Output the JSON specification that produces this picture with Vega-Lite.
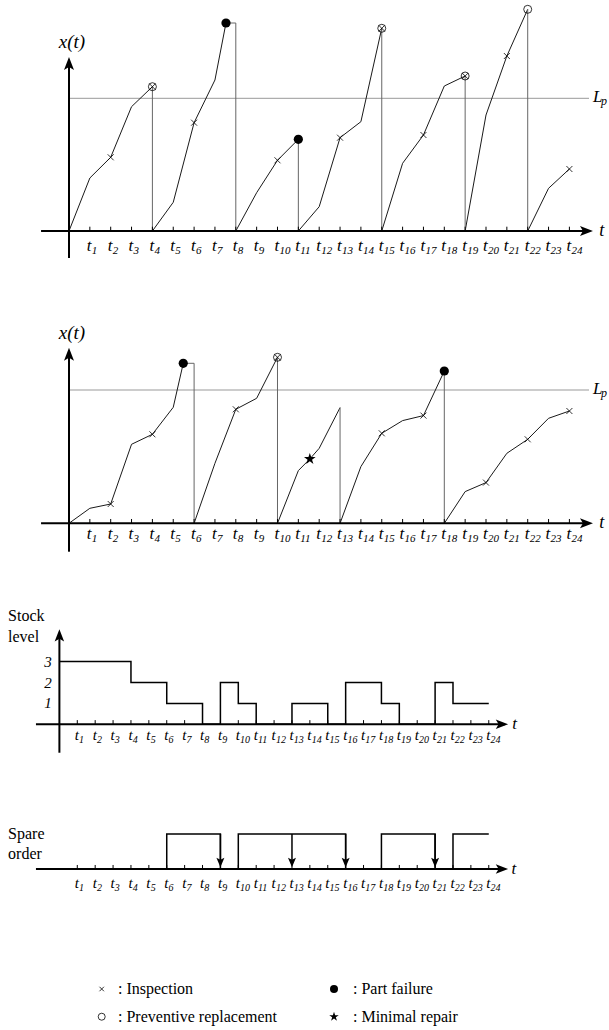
{
 "$schema": "https://vega.github.io/schema/vega-lite/v6.json",
 "padding": 0,
 "spacing": 0,
 "bounds": "flush",
 "config": {"view": {"stroke": null}, "font": "Liberation Serif, Times New Roman, serif", "mark": {"font": "Liberation Serif, Times New Roman, serif"}, "text": {"font": "Liberation Serif, Times New Roman, serif", "color": "black"}},
 "datasets": {
  "ticks": [{"t":1},{"t":2},{"t":3},{"t":4},{"t":5},{"t":6},{"t":7},{"t":8},{"t":9},{"t":10},{"t":11},{"t":12},{"t":13},{"t":14},{"t":15},{"t":16},{"t":17},{"t":18},{"t":19},{"t":20},{"t":21},{"t":22},{"t":23},{"t":24}],
  "p1cyc": [
   {"c":1,"t":0,"v":0},{"c":1,"t":1,"v":5.3},{"c":1,"t":2,"v":7.37},{"c":1,"t":3,"v":12.43},{"c":1,"t":4,"v":14.43},
   {"c":2,"t":4,"v":0},{"c":2,"t":5,"v":2.87},{"c":2,"t":6,"v":10.83},{"c":2,"t":7,"v":15.1},{"c":2,"t":7.53,"v":20.8},
   {"c":3,"t":8,"v":0},{"c":3,"t":9,"v":3.83},{"c":3,"t":10,"v":7.07},{"c":3,"t":11,"v":9.17},
   {"c":4,"t":11,"v":0},{"c":4,"t":12,"v":2.43},{"c":4,"t":13,"v":9.33},{"c":4,"t":14,"v":10.93},{"c":4,"t":15,"v":20.27},
   {"c":5,"t":15,"v":0},{"c":5,"t":16,"v":6.77},{"c":5,"t":17,"v":9.6},{"c":5,"t":18,"v":14.5},{"c":5,"t":19,"v":15.5},
   {"c":6,"t":19,"v":0},{"c":6,"t":20,"v":11.6},{"c":6,"t":21,"v":17.5},{"c":6,"t":22,"v":22.17},
   {"c":7,"t":22,"v":0},{"c":7,"t":23,"v":4.27},{"c":7,"t":24,"v":6.2}
  ],
  "p1drop": [
   {"t":4,"v":14.43,"t2":4,"v2":0},{"t":7.53,"v":20.8,"t2":8,"v2":20.8},{"t":8,"v":20.8,"t2":8,"v2":0},
   {"t":11,"v":9.17,"t2":11,"v2":0},{"t":15,"v":20.27,"t2":15,"v2":0},{"t":19,"v":15.5,"t2":19,"v2":0},{"t":22,"v":22.17,"t2":22,"v2":0}
  ],
  "p1insp": [{"t":2,"v":7.37},{"t":4,"v":14.43},{"t":6,"v":10.83},{"t":10,"v":7.07},{"t":13,"v":9.33},{"t":15,"v":20.27},{"t":17,"v":9.6},{"t":19,"v":15.5},{"t":21,"v":17.5},{"t":24,"v":6.2}],
  "p1prev": [{"t":4,"v":14.43},{"t":15,"v":20.27},{"t":19,"v":15.5},{"t":22,"v":22.17}],
  "p1fail": [{"t":7.53,"v":20.8},{"t":11,"v":9.17}],
  "p2cyc": [
   {"c":1,"t":0,"v":0},{"c":1,"t":1,"v":1.5},{"c":1,"t":2,"v":1.93},{"c":1,"t":3,"v":7.9},{"c":1,"t":4,"v":8.9},{"c":1,"t":5,"v":11.6},{"c":1,"t":5.48,"v":16.0},
   {"c":2,"t":6,"v":0},{"c":2,"t":7,"v":6.0},{"c":2,"t":8,"v":11.4},{"c":2,"t":9,"v":12.5},{"c":2,"t":10,"v":16.6},
   {"c":3,"t":10,"v":0},{"c":3,"t":11,"v":5.27},{"c":3,"t":11.55,"v":6.43},{"c":3,"t":12,"v":7.5},{"c":3,"t":13,"v":11.57},
   {"c":4,"t":13,"v":0},{"c":4,"t":14,"v":5.67},{"c":4,"t":15,"v":9.0},{"c":4,"t":16,"v":10.27},{"c":4,"t":17,"v":10.77},{"c":4,"t":18,"v":15.23},
   {"c":5,"t":18,"v":0},{"c":5,"t":19,"v":3.17},{"c":5,"t":20,"v":4.07},{"c":5,"t":21,"v":7.0},{"c":5,"t":22,"v":8.4},{"c":5,"t":23,"v":10.5},{"c":5,"t":24,"v":11.23}
  ],
  "p2drop": [
   {"t":5.48,"v":16.0,"t2":6,"v2":16.0},{"t":6,"v":16.0,"t2":6,"v2":0},{"t":10,"v":16.6,"t2":10,"v2":0},
   {"t":13,"v":11.57,"t2":13,"v2":0},{"t":18,"v":15.23,"t2":18,"v2":0}
  ],
  "p2insp": [{"t":2,"v":1.93},{"t":4,"v":8.9},{"t":8,"v":11.4},{"t":10,"v":16.6},{"t":15,"v":9.0},{"t":17,"v":10.77},{"t":20,"v":4.07},{"t":22,"v":8.4},{"t":24,"v":11.23}],
  "p2prev": [{"t":10,"v":16.6}],
  "p2fail": [{"t":5.48,"v":16.0},{"t":18,"v":15.23}],
  "p2rep": [{"t":11.55,"v":6.43}],
  "stock": [{"t":0,"v":3},{"t":4,"v":2},{"t":6,"v":1},{"t":8,"v":0},{"t":9,"v":2},{"t":10,"v":1},{"t":11,"v":0},{"t":13,"v":1},{"t":15,"v":0},{"t":16,"v":2},{"t":18,"v":1},{"t":19,"v":0},{"t":21,"v":2},{"t":22,"v":1},{"t":24,"v":1}],
  "levels": [{"v":1},{"v":2},{"v":3}],
  "order": [{"t":0,"v":0},{"t":6,"v":1},{"t":9,"v":0},{"t":10,"v":1},{"t":16,"v":0},{"t":18,"v":1},{"t":21,"v":0},{"t":22,"v":1},{"t":24,"v":1}],
  "arrive": [{"t":9},{"t":13},{"t":16},{"t":21}],
  "legend": [{"col":1,"row":1,"k":": Inspection"},{"col":1,"row":2,"k":": Preventive replacement"},{"col":2,"row":1,"k":": Part failure"},{"col":2,"row":2,"k":": Minimal repair"}]
 },
 "vconcat": [
  {
   "width": 609, "height": 300,
   "layer": [
    {"data": {"values": [{}]}, "mark": {"type": "rule", "color": "#999", "strokeWidth": 1}, "encoding": {
      "x": {"datum": 0, "type": "quantitative", "scale": {"domain": [-3.309, 25.899], "nice": false, "zero": false}, "axis": null},
      "x2": {"datum": 24.94},
      "y": {"datum": 13.27, "type": "quantitative", "scale": {"domain": [-6.9, 23.1], "nice": false, "zero": false}, "axis": null}}},
    {"data": {"name": "p1cyc"}, "mark": {"type": "line", "color": "#1a1a1a", "strokeWidth": 1}, "encoding": {
      "x": {"field": "t", "type": "quantitative", "scale": {"domain": [-3.309, 25.899], "nice": false, "zero": false}, "axis": null},
      "y": {"field": "v", "type": "quantitative", "scale": {"domain": [-6.9, 23.1], "nice": false, "zero": false}, "axis": null},
      "detail": {"field": "c"}}},
    {"data": {"name": "p1drop"}, "mark": {"type": "rule", "color": "#666", "strokeWidth": 1}, "encoding": {
      "x": {"field": "t", "type": "quantitative", "scale": {"domain": [-3.309, 25.899], "nice": false, "zero": false}, "axis": null},
      "y": {"field": "v", "type": "quantitative", "scale": {"domain": [-6.9, 23.1], "nice": false, "zero": false}, "axis": null},
      "x2": {"field": "t2"}, "y2": {"field": "v2"}}},
    {"data": {"values": [{}]}, "mark": {"type": "rule", "color": "black", "strokeWidth": 2}, "encoding": {
      "x": {"datum": -1.34, "type": "quantitative", "scale": {"domain": [-3.309, 25.899], "nice": false, "zero": false}, "axis": null},
      "x2": {"datum": 24.9},
      "y": {"datum": 0, "type": "quantitative", "scale": {"domain": [-6.9, 23.1], "nice": false, "zero": false}, "axis": null}}},
    {"data": {"values": [{}]}, "mark": {"type": "rule", "color": "black", "strokeWidth": 2}, "encoding": {
      "x": {"datum": 0, "type": "quantitative", "scale": {"domain": [-3.309, 25.899], "nice": false, "zero": false}, "axis": null},
      "y": {"datum": -2.7, "type": "quantitative", "scale": {"domain": [-6.9, 23.1], "nice": false, "zero": false}, "axis": null},
      "y2": {"datum": 16.5}}},
    {"data": {"values": [{}]}, "mark": {"type": "point", "shape": "M0,0 L1,2.6 L0,2 L-1,2.6 Z", "filled": true, "color": "black", "opacity": 1, "size": 100}, "encoding": {
      "x": {"datum": 0, "type": "quantitative", "scale": {"domain": [-3.309, 25.899], "nice": false, "zero": false}, "axis": null},
      "y": {"datum": 17.4, "type": "quantitative", "scale": {"domain": [-6.9, 23.1], "nice": false, "zero": false}, "axis": null}}},
    {"data": {"values": [{}]}, "mark": {"type": "point", "shape": "M0,0 L-2.6,-1 L-2,0 L-2.6,1 Z", "filled": true, "color": "black", "opacity": 1, "size": 100}, "encoding": {
      "x": {"datum": 25.13, "type": "quantitative", "scale": {"domain": [-3.309, 25.899], "nice": false, "zero": false}, "axis": null},
      "y": {"datum": 0, "type": "quantitative", "scale": {"domain": [-6.9, 23.1], "nice": false, "zero": false}, "axis": null}}},
    {"data": {"name": "ticks"}, "mark": {"type": "rule", "color": "black", "strokeWidth": 1}, "encoding": {
      "x": {"field": "t", "type": "quantitative", "scale": {"domain": [-3.309, 25.899], "nice": false, "zero": false}, "axis": null},
      "y": {"datum": 0, "type": "quantitative", "scale": {"domain": [-6.9, 23.1], "nice": false, "zero": false}, "axis": null},
      "y2": {"datum": 0.43}}},
    {"data": {"name": "p1insp"}, "mark": {"type": "point", "shape": "M-1,-1L1,1M-1,1L1,-1", "filled": false, "color": "black", "opacity": 1, "size": 36, "strokeWidth": 0.8}, "encoding": {
      "x": {"field": "t", "type": "quantitative", "scale": {"domain": [-3.309, 25.899], "nice": false, "zero": false}, "axis": null},
      "y": {"field": "v", "type": "quantitative", "scale": {"domain": [-6.9, 23.1], "nice": false, "zero": false}, "axis": null}}},
    {"data": {"name": "p1prev"}, "mark": {"type": "point", "shape": "circle", "filled": false, "color": "black", "opacity": 1, "size": 64, "strokeWidth": 0.8}, "encoding": {
      "x": {"field": "t", "type": "quantitative", "scale": {"domain": [-3.309, 25.899], "nice": false, "zero": false}, "axis": null},
      "y": {"field": "v", "type": "quantitative", "scale": {"domain": [-6.9, 23.1], "nice": false, "zero": false}, "axis": null}}},
    {"data": {"name": "p1fail"}, "mark": {"type": "point", "shape": "circle", "filled": true, "color": "black", "opacity": 1, "size": 85}, "encoding": {
      "x": {"field": "t", "type": "quantitative", "scale": {"domain": [-3.309, 25.899], "nice": false, "zero": false}, "axis": null},
      "y": {"field": "v", "type": "quantitative", "scale": {"domain": [-6.9, 23.1], "nice": false, "zero": false}, "axis": null}}},
    {"data": {"name": "ticks"}, "mark": {"type": "text", "text": "t", "fontStyle": "italic", "fontSize": 17, "align": "left", "baseline": "alphabetic", "dx": -3}, "encoding": {
      "x": {"field": "t", "type": "quantitative", "scale": {"domain": [-3.309, 25.899], "nice": false, "zero": false}, "axis": null},
      "y": {"datum": -2.0, "type": "quantitative", "scale": {"domain": [-6.9, 23.1], "nice": false, "zero": false}, "axis": null}}},
    {"data": {"name": "ticks"}, "mark": {"type": "text", "fontStyle": "italic", "fontSize": 11, "align": "left", "baseline": "alphabetic", "dx": 2, "dy": 3}, "encoding": {
      "x": {"field": "t", "type": "quantitative", "scale": {"domain": [-3.309, 25.899], "nice": false, "zero": false}, "axis": null},
      "y": {"datum": -2.0, "type": "quantitative", "scale": {"domain": [-6.9, 23.1], "nice": false, "zero": false}, "axis": null},
      "text": {"field": "t", "type": "quantitative", "format": "d"}}},
    {"data": {"values": [{}]}, "mark": {"type": "text", "text": "x(t)", "fontStyle": "italic", "fontSize": 19, "align": "center", "baseline": "middle"}, "encoding": {
      "x": {"datum": 0.14, "type": "quantitative", "scale": {"domain": [-3.309, 25.899], "nice": false, "zero": false}, "axis": null},
      "y": {"datum": 18.9, "type": "quantitative", "scale": {"domain": [-6.9, 23.1], "nice": false, "zero": false}, "axis": null}}},
    {"data": {"values": [{}]}, "mark": {"type": "text", "text": "t", "fontStyle": "italic", "fontSize": 18, "align": "center", "baseline": "middle"}, "encoding": {
      "x": {"datum": 25.55, "type": "quantitative", "scale": {"domain": [-3.309, 25.899], "nice": false, "zero": false}, "axis": null},
      "y": {"datum": 0, "type": "quantitative", "scale": {"domain": [-6.9, 23.1], "nice": false, "zero": false}, "axis": null}}},
    {"data": {"values": [{}]}, "mark": {"type": "text", "text": "L", "fontStyle": "italic", "fontSize": 17, "align": "left", "baseline": "middle"}, "encoding": {
      "x": {"datum": 25.13, "type": "quantitative", "scale": {"domain": [-3.309, 25.899], "nice": false, "zero": false}, "axis": null},
      "y": {"datum": 13.38, "type": "quantitative", "scale": {"domain": [-6.9, 23.1], "nice": false, "zero": false}, "axis": null}}},
    {"data": {"values": [{}]}, "mark": {"type": "text", "text": "p", "fontStyle": "italic", "fontSize": 12, "align": "left", "baseline": "middle", "dx": 8, "dy": 4}, "encoding": {
      "x": {"datum": 25.13, "type": "quantitative", "scale": {"domain": [-3.309, 25.899], "nice": false, "zero": false}, "axis": null},
      "y": {"datum": 13.38, "type": "quantitative", "scale": {"domain": [-6.9, 23.1], "nice": false, "zero": false}, "axis": null}}}
   ]
  },
  {
   "width": 609, "height": 290,
   "layer": [
    {"data": {"values": [{}]}, "mark": {"type": "rule", "color": "#999", "strokeWidth": 1}, "encoding": {
      "x": {"datum": 0, "type": "quantitative", "scale": {"domain": [-3.309, 25.899], "nice": false, "zero": false}, "axis": null},
      "x2": {"datum": 24.94},
      "y": {"datum": 13.33, "type": "quantitative", "scale": {"domain": [-6.67, 22.33], "nice": false, "zero": false}, "axis": null}}},
    {"data": {"name": "p2cyc"}, "mark": {"type": "line", "color": "#1a1a1a", "strokeWidth": 1}, "encoding": {
      "x": {"field": "t", "type": "quantitative", "scale": {"domain": [-3.309, 25.899], "nice": false, "zero": false}, "axis": null},
      "y": {"field": "v", "type": "quantitative", "scale": {"domain": [-6.67, 22.33], "nice": false, "zero": false}, "axis": null},
      "detail": {"field": "c"}}},
    {"data": {"name": "p2drop"}, "mark": {"type": "rule", "color": "#666", "strokeWidth": 1}, "encoding": {
      "x": {"field": "t", "type": "quantitative", "scale": {"domain": [-3.309, 25.899], "nice": false, "zero": false}, "axis": null},
      "y": {"field": "v", "type": "quantitative", "scale": {"domain": [-6.67, 22.33], "nice": false, "zero": false}, "axis": null},
      "x2": {"field": "t2"}, "y2": {"field": "v2"}}},
    {"data": {"values": [{}]}, "mark": {"type": "rule", "color": "black", "strokeWidth": 2}, "encoding": {
      "x": {"datum": -1.34, "type": "quantitative", "scale": {"domain": [-3.309, 25.899], "nice": false, "zero": false}, "axis": null},
      "x2": {"datum": 24.9},
      "y": {"datum": 0, "type": "quantitative", "scale": {"domain": [-6.67, 22.33], "nice": false, "zero": false}, "axis": null}}},
    {"data": {"values": [{}]}, "mark": {"type": "rule", "color": "black", "strokeWidth": 2}, "encoding": {
      "x": {"datum": 0, "type": "quantitative", "scale": {"domain": [-3.309, 25.899], "nice": false, "zero": false}, "axis": null},
      "y": {"datum": -2.84, "type": "quantitative", "scale": {"domain": [-6.67, 22.33], "nice": false, "zero": false}, "axis": null},
      "y2": {"datum": 16.6}}},
    {"data": {"values": [{}]}, "mark": {"type": "point", "shape": "M0,0 L1,2.6 L0,2 L-1,2.6 Z", "filled": true, "color": "black", "opacity": 1, "size": 100}, "encoding": {
      "x": {"datum": 0, "type": "quantitative", "scale": {"domain": [-3.309, 25.899], "nice": false, "zero": false}, "axis": null},
      "y": {"datum": 17.56, "type": "quantitative", "scale": {"domain": [-6.67, 22.33], "nice": false, "zero": false}, "axis": null}}},
    {"data": {"values": [{}]}, "mark": {"type": "point", "shape": "M0,0 L-2.6,-1 L-2,0 L-2.6,1 Z", "filled": true, "color": "black", "opacity": 1, "size": 100}, "encoding": {
      "x": {"datum": 25.13, "type": "quantitative", "scale": {"domain": [-3.309, 25.899], "nice": false, "zero": false}, "axis": null},
      "y": {"datum": 0, "type": "quantitative", "scale": {"domain": [-6.67, 22.33], "nice": false, "zero": false}, "axis": null}}},
    {"data": {"name": "ticks"}, "mark": {"type": "rule", "color": "black", "strokeWidth": 1}, "encoding": {
      "x": {"field": "t", "type": "quantitative", "scale": {"domain": [-3.309, 25.899], "nice": false, "zero": false}, "axis": null},
      "y": {"datum": 0, "type": "quantitative", "scale": {"domain": [-6.67, 22.33], "nice": false, "zero": false}, "axis": null},
      "y2": {"datum": 0.43}}},
    {"data": {"name": "p2insp"}, "mark": {"type": "point", "shape": "M-1,-1L1,1M-1,1L1,-1", "filled": false, "color": "black", "opacity": 1, "size": 36, "strokeWidth": 0.8}, "encoding": {
      "x": {"field": "t", "type": "quantitative", "scale": {"domain": [-3.309, 25.899], "nice": false, "zero": false}, "axis": null},
      "y": {"field": "v", "type": "quantitative", "scale": {"domain": [-6.67, 22.33], "nice": false, "zero": false}, "axis": null}}},
    {"data": {"name": "p2prev"}, "mark": {"type": "point", "shape": "circle", "filled": false, "color": "black", "opacity": 1, "size": 64, "strokeWidth": 0.8}, "encoding": {
      "x": {"field": "t", "type": "quantitative", "scale": {"domain": [-3.309, 25.899], "nice": false, "zero": false}, "axis": null},
      "y": {"field": "v", "type": "quantitative", "scale": {"domain": [-6.67, 22.33], "nice": false, "zero": false}, "axis": null}}},
    {"data": {"name": "p2fail"}, "mark": {"type": "point", "shape": "circle", "filled": true, "color": "black", "opacity": 1, "size": 85}, "encoding": {
      "x": {"field": "t", "type": "quantitative", "scale": {"domain": [-3.309, 25.899], "nice": false, "zero": false}, "axis": null},
      "y": {"field": "v", "type": "quantitative", "scale": {"domain": [-6.67, 22.33], "nice": false, "zero": false}, "axis": null}}},
    {"data": {"name": "p2rep"}, "mark": {"type": "point", "shape": "M0,-1 L0.2245,-0.309 L0.951,-0.309 L0.363,0.118 L0.588,0.809 L0,0.382 L-0.588,0.809 L-0.363,0.118 L-0.951,-0.309 L-0.2245,-0.309 Z", "filled": true, "color": "black", "opacity": 1, "size": 150}, "encoding": {
      "x": {"field": "t", "type": "quantitative", "scale": {"domain": [-3.309, 25.899], "nice": false, "zero": false}, "axis": null},
      "y": {"field": "v", "type": "quantitative", "scale": {"domain": [-6.67, 22.33], "nice": false, "zero": false}, "axis": null}}},
    {"data": {"name": "ticks"}, "mark": {"type": "text", "text": "t", "fontStyle": "italic", "fontSize": 17, "align": "left", "baseline": "alphabetic", "dx": -3}, "encoding": {
      "x": {"field": "t", "type": "quantitative", "scale": {"domain": [-3.309, 25.899], "nice": false, "zero": false}, "axis": null},
      "y": {"datum": -1.6, "type": "quantitative", "scale": {"domain": [-6.67, 22.33], "nice": false, "zero": false}, "axis": null}}},
    {"data": {"name": "ticks"}, "mark": {"type": "text", "fontStyle": "italic", "fontSize": 11, "align": "left", "baseline": "alphabetic", "dx": 2, "dy": 3}, "encoding": {
      "x": {"field": "t", "type": "quantitative", "scale": {"domain": [-3.309, 25.899], "nice": false, "zero": false}, "axis": null},
      "y": {"datum": -1.6, "type": "quantitative", "scale": {"domain": [-6.67, 22.33], "nice": false, "zero": false}, "axis": null},
      "text": {"field": "t", "type": "quantitative", "format": "d"}}},
    {"data": {"values": [{}]}, "mark": {"type": "text", "text": "x(t)", "fontStyle": "italic", "fontSize": 19, "align": "center", "baseline": "middle"}, "encoding": {
      "x": {"datum": 0.14, "type": "quantitative", "scale": {"domain": [-3.309, 25.899], "nice": false, "zero": false}, "axis": null},
      "y": {"datum": 19.0, "type": "quantitative", "scale": {"domain": [-6.67, 22.33], "nice": false, "zero": false}, "axis": null}}},
    {"data": {"values": [{}]}, "mark": {"type": "text", "text": "t", "fontStyle": "italic", "fontSize": 18, "align": "center", "baseline": "middle"}, "encoding": {
      "x": {"datum": 25.55, "type": "quantitative", "scale": {"domain": [-3.309, 25.899], "nice": false, "zero": false}, "axis": null},
      "y": {"datum": 0, "type": "quantitative", "scale": {"domain": [-6.67, 22.33], "nice": false, "zero": false}, "axis": null}}},
    {"data": {"values": [{}]}, "mark": {"type": "text", "text": "L", "fontStyle": "italic", "fontSize": 17, "align": "left", "baseline": "middle"}, "encoding": {
      "x": {"datum": 25.13, "type": "quantitative", "scale": {"domain": [-3.309, 25.899], "nice": false, "zero": false}, "axis": null},
      "y": {"datum": 13.43, "type": "quantitative", "scale": {"domain": [-6.67, 22.33], "nice": false, "zero": false}, "axis": null}}},
    {"data": {"values": [{}]}, "mark": {"type": "text", "text": "p", "fontStyle": "italic", "fontSize": 12, "align": "left", "baseline": "middle", "dx": 8, "dy": 4}, "encoding": {
      "x": {"datum": 25.13, "type": "quantitative", "scale": {"domain": [-3.309, 25.899], "nice": false, "zero": false}, "axis": null},
      "y": {"datum": 13.43, "type": "quantitative", "scale": {"domain": [-6.67, 22.33], "nice": false, "zero": false}, "axis": null}}}
   ]
  },
  {
   "width": 609, "height": 170,
   "layer": [
    {"data": {"name": "stock"}, "mark": {"type": "line", "interpolate": "step-after", "color": "black", "strokeWidth": 1.5}, "encoding": {
      "x": {"field": "t", "type": "quantitative", "scale": {"domain": [-3.32, 30.72], "nice": false, "zero": false}, "axis": null},
      "y": {"field": "v", "type": "quantitative", "scale": {"domain": [-1.708, 6.426], "nice": false, "zero": false}, "axis": null}}},
    {"data": {"values": [{}]}, "mark": {"type": "rule", "color": "black", "strokeWidth": 2}, "encoding": {
      "x": {"datum": -1.31, "type": "quantitative", "scale": {"domain": [-3.32, 30.72], "nice": false, "zero": false}, "axis": null},
      "x2": {"datum": 24.9},
      "y": {"datum": 0, "type": "quantitative", "scale": {"domain": [-1.708, 6.426], "nice": false, "zero": false}, "axis": null}}},
    {"data": {"values": [{}]}, "mark": {"type": "rule", "color": "black", "strokeWidth": 2}, "encoding": {
      "x": {"datum": 0, "type": "quantitative", "scale": {"domain": [-3.32, 30.72], "nice": false, "zero": false}, "axis": null},
      "y": {"datum": -1.36, "type": "quantitative", "scale": {"domain": [-1.708, 6.426], "nice": false, "zero": false}, "axis": null},
      "y2": {"datum": 4.2}}},
    {"data": {"values": [{}]}, "mark": {"type": "point", "shape": "M0,0 L1,2.6 L0,2 L-1,2.6 Z", "filled": true, "color": "black", "opacity": 1, "size": 90}, "encoding": {
      "x": {"datum": 0, "type": "quantitative", "scale": {"domain": [-3.32, 30.72], "nice": false, "zero": false}, "axis": null},
      "y": {"datum": 4.55, "type": "quantitative", "scale": {"domain": [-1.708, 6.426], "nice": false, "zero": false}, "axis": null}}},
    {"data": {"values": [{}]}, "mark": {"type": "point", "shape": "M0,0 L-2.6,-1 L-2,0 L-2.6,1 Z", "filled": true, "color": "black", "opacity": 1, "size": 90}, "encoding": {
      "x": {"datum": 25.08, "type": "quantitative", "scale": {"domain": [-3.32, 30.72], "nice": false, "zero": false}, "axis": null},
      "y": {"datum": 0, "type": "quantitative", "scale": {"domain": [-1.708, 6.426], "nice": false, "zero": false}, "axis": null}}},
    {"data": {"name": "ticks"}, "mark": {"type": "rule", "color": "black", "strokeWidth": 1}, "encoding": {
      "x": {"field": "t", "type": "quantitative", "scale": {"domain": [-3.32, 30.72], "nice": false, "zero": false}, "axis": null},
      "y": {"datum": 0, "type": "quantitative", "scale": {"domain": [-1.708, 6.426], "nice": false, "zero": false}, "axis": null},
      "y2": {"datum": 0.2}}},
    {"data": {"name": "ticks"}, "mark": {"type": "text", "text": "t", "fontStyle": "italic", "fontSize": 15, "align": "left", "baseline": "alphabetic", "dx": -2.5}, "encoding": {
      "x": {"field": "t", "type": "quantitative", "scale": {"domain": [-3.32, 30.72], "nice": false, "zero": false}, "axis": null},
      "y": {"datum": -0.75, "type": "quantitative", "scale": {"domain": [-1.708, 6.426], "nice": false, "zero": false}, "axis": null}}},
    {"data": {"name": "ticks"}, "mark": {"type": "text", "fontStyle": "italic", "fontSize": 10, "align": "left", "baseline": "alphabetic", "dx": 1.8, "dy": 3.5}, "encoding": {
      "x": {"field": "t", "type": "quantitative", "scale": {"domain": [-3.32, 30.72], "nice": false, "zero": false}, "axis": null},
      "y": {"datum": -0.75, "type": "quantitative", "scale": {"domain": [-1.708, 6.426], "nice": false, "zero": false}, "axis": null},
      "text": {"field": "t", "type": "quantitative", "format": "d"}}},
    {"data": {"name": "levels"}, "mark": {"type": "text", "fontStyle": "italic", "fontSize": 15, "align": "center", "baseline": "middle"}, "encoding": {
      "x": {"datum": -0.64, "type": "quantitative", "scale": {"domain": [-3.32, 30.72], "nice": false, "zero": false}, "axis": null},
      "y": {"field": "v", "type": "quantitative", "scale": {"domain": [-1.708, 6.426], "nice": false, "zero": false}, "axis": null},
      "text": {"field": "v", "type": "quantitative", "format": "d"}}},
    {"data": {"values": [{}]}, "mark": {"type": "text", "text": "t", "fontStyle": "italic", "fontSize": 17, "align": "center", "baseline": "middle"}, "encoding": {
      "x": {"datum": 25.45, "type": "quantitative", "scale": {"domain": [-3.32, 30.72], "nice": false, "zero": false}, "axis": null},
      "y": {"datum": 0, "type": "quantitative", "scale": {"domain": [-1.708, 6.426], "nice": false, "zero": false}, "axis": null}}},
    {"data": {"values": [{}]}, "mark": {"type": "text", "text": "Stock", "fontSize": 16, "align": "left", "baseline": "middle"}, "encoding": {
      "x": {"datum": -2.87, "type": "quantitative", "scale": {"domain": [-3.32, 30.72], "nice": false, "zero": false}, "axis": null},
      "y": {"datum": 5.18, "type": "quantitative", "scale": {"domain": [-1.708, 6.426], "nice": false, "zero": false}, "axis": null}}},
    {"data": {"values": [{}]}, "mark": {"type": "text", "text": "level", "fontSize": 16, "align": "left", "baseline": "middle"}, "encoding": {
      "x": {"datum": -2.87, "type": "quantitative", "scale": {"domain": [-3.32, 30.72], "nice": false, "zero": false}, "axis": null},
      "y": {"datum": 4.19, "type": "quantitative", "scale": {"domain": [-1.708, 6.426], "nice": false, "zero": false}, "axis": null}}}
   ]
  },
  {
   "width": 609, "height": 190,
   "layer": [
    {"data": {"name": "order"}, "mark": {"type": "line", "interpolate": "step-after", "color": "black", "strokeWidth": 1.5}, "encoding": {
      "x": {"field": "t", "type": "quantitative", "scale": {"domain": [-3.32, 30.72], "nice": false, "zero": false}, "axis": null},
      "y": {"field": "v", "type": "quantitative", "scale": {"domain": [-2.314, 3.114], "nice": false, "zero": false}, "axis": null}}},
    {"data": {"values": [{}]}, "mark": {"type": "rule", "color": "black", "strokeWidth": 2}, "encoding": {
      "x": {"datum": -1.31, "type": "quantitative", "scale": {"domain": [-3.32, 30.72], "nice": false, "zero": false}, "axis": null},
      "x2": {"datum": 24.9},
      "y": {"datum": 0, "type": "quantitative", "scale": {"domain": [-2.314, 3.114], "nice": false, "zero": false}, "axis": null}}},
    {"data": {"values": [{}]}, "mark": {"type": "point", "shape": "M0,0 L-2.6,-1 L-2,0 L-2.6,1 Z", "filled": true, "color": "black", "opacity": 1, "size": 90}, "encoding": {
      "x": {"datum": 25.08, "type": "quantitative", "scale": {"domain": [-3.32, 30.72], "nice": false, "zero": false}, "axis": null},
      "y": {"datum": 0, "type": "quantitative", "scale": {"domain": [-2.314, 3.114], "nice": false, "zero": false}, "axis": null}}},
    {"data": {"name": "ticks"}, "mark": {"type": "rule", "color": "black", "strokeWidth": 1}, "encoding": {
      "x": {"field": "t", "type": "quantitative", "scale": {"domain": [-3.32, 30.72], "nice": false, "zero": false}, "axis": null},
      "y": {"datum": 0, "type": "quantitative", "scale": {"domain": [-2.314, 3.114], "nice": false, "zero": false}, "axis": null},
      "y2": {"datum": 0.115}}},
    {"data": {"name": "arrive"}, "mark": {"type": "rule", "color": "black", "strokeWidth": 1.5}, "encoding": {
      "x": {"field": "t", "type": "quantitative", "scale": {"domain": [-3.32, 30.72], "nice": false, "zero": false}, "axis": null},
      "y": {"datum": 1, "type": "quantitative", "scale": {"domain": [-2.314, 3.114], "nice": false, "zero": false}, "axis": null},
      "y2": {"datum": 0.2}}},
    {"data": {"name": "arrive"}, "mark": {"type": "point", "shape": "M0,0 L-1,-2.4 L0,-1.9 L1,-2.4 Z", "filled": true, "color": "black", "opacity": 1, "size": 64}, "encoding": {
      "x": {"field": "t", "type": "quantitative", "scale": {"domain": [-3.32, 30.72], "nice": false, "zero": false}, "axis": null},
      "y": {"datum": 0.05, "type": "quantitative", "scale": {"domain": [-2.314, 3.114], "nice": false, "zero": false}, "axis": null}}},
    {"data": {"name": "ticks"}, "mark": {"type": "text", "text": "t", "fontStyle": "italic", "fontSize": 15, "align": "left", "baseline": "alphabetic", "dx": -2.5}, "encoding": {
      "x": {"field": "t", "type": "quantitative", "scale": {"domain": [-3.32, 30.72], "nice": false, "zero": false}, "axis": null},
      "y": {"datum": -0.54, "type": "quantitative", "scale": {"domain": [-2.314, 3.114], "nice": false, "zero": false}, "axis": null}}},
    {"data": {"name": "ticks"}, "mark": {"type": "text", "fontStyle": "italic", "fontSize": 10, "align": "left", "baseline": "alphabetic", "dx": 1.8, "dy": 3.5}, "encoding": {
      "x": {"field": "t", "type": "quantitative", "scale": {"domain": [-3.32, 30.72], "nice": false, "zero": false}, "axis": null},
      "y": {"datum": -0.54, "type": "quantitative", "scale": {"domain": [-2.314, 3.114], "nice": false, "zero": false}, "axis": null},
      "text": {"field": "t", "type": "quantitative", "format": "d"}}},
    {"data": {"values": [{}]}, "mark": {"type": "text", "text": "t", "fontStyle": "italic", "fontSize": 17, "align": "center", "baseline": "middle"}, "encoding": {
      "x": {"datum": 25.4, "type": "quantitative", "scale": {"domain": [-3.32, 30.72], "nice": false, "zero": false}, "axis": null},
      "y": {"datum": 0, "type": "quantitative", "scale": {"domain": [-2.314, 3.114], "nice": false, "zero": false}, "axis": null}}},
    {"data": {"values": [{}]}, "mark": {"type": "text", "text": "Spare", "fontSize": 16, "align": "left", "baseline": "middle"}, "encoding": {
      "x": {"datum": -2.87, "type": "quantitative", "scale": {"domain": [-3.32, 30.72], "nice": false, "zero": false}, "axis": null},
      "y": {"datum": 1.0, "type": "quantitative", "scale": {"domain": [-2.314, 3.114], "nice": false, "zero": false}, "axis": null}}},
    {"data": {"values": [{}]}, "mark": {"type": "text", "text": "order", "fontSize": 16, "align": "left", "baseline": "middle"}, "encoding": {
      "x": {"datum": -2.87, "type": "quantitative", "scale": {"domain": [-3.32, 30.72], "nice": false, "zero": false}, "axis": null},
      "y": {"datum": 0.42, "type": "quantitative", "scale": {"domain": [-2.314, 3.114], "nice": false, "zero": false}, "axis": null}}}
   ]
  },
  {
   "width": 609, "height": 80,
   "layer": [
    {"data": {"values": [{}]}, "mark": {"type": "point", "shape": "M-1,-1L1,1M-1,1L1,-1", "filled": false, "color": "black", "opacity": 1, "size": 20, "strokeWidth": 0.8}, "encoding": {
      "x": {"datum": 1, "type": "quantitative", "scale": {"domain": [0.5622, 3.1838], "nice": false, "zero": false}, "axis": null},
      "y": {"datum": 1, "type": "quantitative", "scale": {"domain": [-0.408, 2.48], "nice": false, "zero": false, "reverse": true}, "axis": null}}},
    {"data": {"values": [{}]}, "mark": {"type": "point", "shape": "circle", "filled": false, "color": "black", "opacity": 1, "size": 49, "strokeWidth": 0.8}, "encoding": {
      "x": {"datum": 1, "type": "quantitative", "scale": {"domain": [0.5622, 3.1838], "nice": false, "zero": false}, "axis": null},
      "y": {"datum": 2, "type": "quantitative", "scale": {"domain": [-0.408, 2.48], "nice": false, "zero": false, "reverse": true}, "axis": null}}},
    {"data": {"values": [{}]}, "mark": {"type": "point", "shape": "circle", "filled": true, "color": "black", "opacity": 1, "size": 64}, "encoding": {
      "x": {"datum": 2, "type": "quantitative", "scale": {"domain": [0.5622, 3.1838], "nice": false, "zero": false}, "axis": null},
      "y": {"datum": 1, "type": "quantitative", "scale": {"domain": [-0.408, 2.48], "nice": false, "zero": false, "reverse": true}, "axis": null}}},
    {"data": {"values": [{}]}, "mark": {"type": "point", "shape": "M0,-1 L0.2245,-0.309 L0.951,-0.309 L0.363,0.118 L0.588,0.809 L0,0.382 L-0.588,0.809 L-0.363,0.118 L-0.951,-0.309 L-0.2245,-0.309 Z", "filled": true, "color": "black", "opacity": 1, "size": 100}, "encoding": {
      "x": {"datum": 2, "type": "quantitative", "scale": {"domain": [0.5622, 3.1838], "nice": false, "zero": false}, "axis": null},
      "y": {"datum": 2, "type": "quantitative", "scale": {"domain": [-0.408, 2.48], "nice": false, "zero": false, "reverse": true}, "axis": null}}},
    {"data": {"name": "legend"}, "transform": [{"filter": "datum.col == 1"}], "mark": {"type": "text", "fontSize": 16, "align": "left", "baseline": "middle", "dx": 16.3}, "encoding": {
      "x": {"field": "col", "type": "quantitative", "scale": {"domain": [0.5622, 3.1838], "nice": false, "zero": false}, "axis": null},
      "y": {"field": "row", "type": "quantitative", "scale": {"domain": [-0.408, 2.48], "nice": false, "zero": false, "reverse": true}, "axis": null},
      "text": {"field": "k"}}},
    {"data": {"name": "legend"}, "transform": [{"filter": "datum.col == 2"}], "mark": {"type": "text", "fontSize": 16, "align": "left", "baseline": "middle", "dx": 19}, "encoding": {
      "x": {"field": "col", "type": "quantitative", "scale": {"domain": [0.5622, 3.1838], "nice": false, "zero": false}, "axis": null},
      "y": {"field": "row", "type": "quantitative", "scale": {"domain": [-0.408, 2.48], "nice": false, "zero": false, "reverse": true}, "axis": null},
      "text": {"field": "k"}}}
   ]
  }
 ]
}
